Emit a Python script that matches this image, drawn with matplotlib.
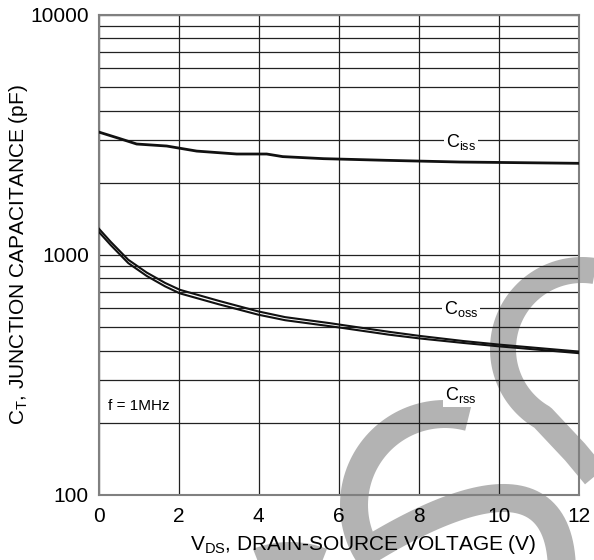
import numpy as np
import matplotlib
matplotlib.use("Agg")
import matplotlib.pyplot as plt
from matplotlib.lines import Line2D

plt.rcParams['font.family'] = ['Liberation Sans', 'DejaVu Sans']
plt.rcParams['mathtext.default'] = 'regular'

# capacitance vs drain-source voltage
vds_iss = [0, 0.5, 0.95, 1.7, 2.45, 3.45, 4.2, 4.6, 5.62, 7.2, 9.03, 12]
ciss = [3254, 3065, 2900, 2845, 2710, 2635, 2635, 2570, 2520, 2480, 2440, 2410]

vds_oss = [0, 0.3, 0.74, 1.2, 1.66, 2.03, 2.99, 3.99, 4.66, 5.78, 6.12, 7.24, 8.03, 9.12, 10.03, 12]
coss = [1290, 1135, 955, 845, 765, 716, 645, 582, 551, 520, 510, 479, 460, 438, 423, 396]
crss = [1250, 1100, 925, 818, 740, 692, 624, 564, 535, 505, 496, 466, 449, 430, 416, 390]

labels = ["C$_{iss}$", "C$_{oss}$", "C$_{rss}$"]
label_x = [9.06, 9.06, 9.06]
label_y = [2960, 595, 262]

W, H = 594, 560
fig = plt.figure(figsize=(W / 100, H / 100), dpi=100)
fig.patch.set_facecolor('white')
ax = fig.add_axes([98.7 / W, 1 - 495 / H, 480 / W, 480 / H])
ax.patch.set_alpha(0)


# grey "S" watermark behind the chart, in pixel coords (y down)
def px_line(xs, ys, thick):
    xs = np.asarray(xs) / W
    ys = 1 - np.asarray(ys) / H
    fig.add_artist(Line2D(xs, ys, transform=fig.transFigure, color='#b3b3b3',
                          lw=thick * 0.72, solid_capstyle='butt',
                          solid_joinstyle='round', zorder=-1))


def arc(cx, cy, r, a0, a1):
    t = np.radians(np.linspace(a0, a1, 80))
    return cx + r * np.cos(t), cy - r * np.sin(t)


ux, uy = arc(582, 349, 79, 70, 240)
px_line(np.r_[ux, 575, 615], np.r_[uy, 452, 500], 26)
mx, my = arc(445, 505, 91, 75, 255)
px_line(mx, my, 28)
tt = np.linspace(0, 1, 60)
b0, b1, b2, b3 = (366, 552), (450, 500), (560, 455), (562, 570)
bx = (1 - tt) ** 3 * b0[0] + 3 * (1 - tt) ** 2 * tt * b1[0] + 3 * (1 - tt) * tt ** 2 * b2[0] + tt ** 3 * b3[0]
by = (1 - tt) ** 3 * b0[1] + 3 * (1 - tt) ** 2 * tt * b1[1] + 3 * (1 - tt) * tt ** 2 * b2[1] + tt ** 3 * b3[1]
px_line(bx, by, 28)
lx, ly = arc(290, 645, 90, 30, 150)
px_line(lx, ly, 26)

# curves
ax.plot(vds_iss, ciss, color='#111111', lw=2.0, zorder=3)
ax.plot(vds_oss, coss, color='#111111', lw=1.5, zorder=3)
ax.plot(vds_oss, crss, color='#111111', lw=1.5, zorder=3)

for txt, lx_, ly_ in zip(labels, label_x, label_y):
    ax.text(lx_, ly_, txt, fontsize=13, ha='center', va='center', zorder=4,
            bbox=dict(facecolor='white', edgecolor='none', pad=1.5))

ax.text(0.23, 235, "f = 1MHz", fontsize=11, ha='left', va='center', zorder=4)

ax.set_yscale('log')
ax.set_xlim(0, 12)
ax.set_ylim(100, 10000)
ax.set_xticks([0, 2, 4, 6, 8, 10, 12])
ax.set_yticks([100, 1000, 10000])
ax.set_yticklabels(['100', '1000', '10000'])
ax.yaxis.set_minor_locator(matplotlib.ticker.LogLocator(base=10, subs=np.arange(2, 10)))
ax.yaxis.set_minor_formatter(matplotlib.ticker.NullFormatter())
ax.tick_params(which='both', length=0, labelsize=15)
ax.tick_params(axis='x', pad=9)
ax.tick_params(axis='y', pad=7)
ax.grid(True, which='both', color='#222222', lw=0.9, zorder=1)
ax.set_axisbelow(True)
for sp in ax.spines.values():
    sp.set_color('#808080')
    sp.set_linewidth(1.5)

fig.text(363 / W, 1 - 545 / H, "V$_{DS}$, DRAIN-SOURCE VOLTAGE (V)", fontsize=15,
         ha='center', va='center')
fig.text(19 / W, 1 - 255 / H, "C$_{T}$, JUNCTION CAPACITANCE (pF)", fontsize=15,
         ha='center', va='center', rotation=90)

fig.savefig("out.png", dpi=100, facecolor='white')
